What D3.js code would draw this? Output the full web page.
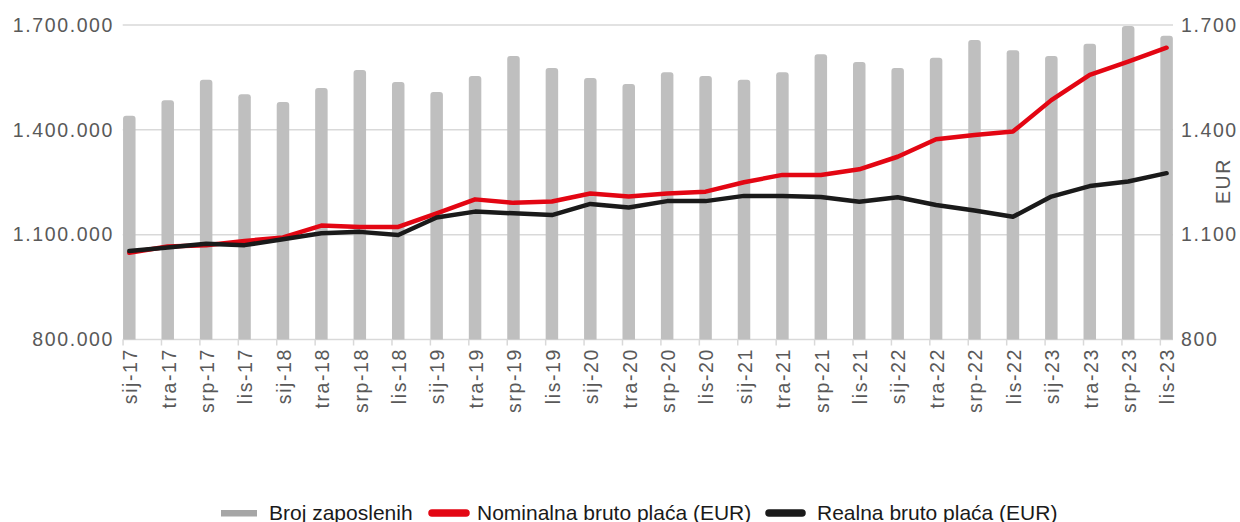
<!DOCTYPE html>
<html>
  <head>
    <meta charset="utf-8" />
    <script src="https://d3js.org/d3.v7.min.js"></script>
    <style>
      body { margin: 0; background: #fff; }
      text { font-family: "Liberation Sans", Arial, sans-serif; }
    </style>
  </head>
  <body>
    <div id="my_dataviz"></div>
    <script>
      // categories (quarters)
      var periods = [
        "sij-17", "tra-17", "srp-17", "lis-17",
        "sij-18", "tra-18", "srp-18", "lis-18",
        "sij-19", "tra-19", "srp-19", "lis-19",
        "sij-20", "tra-20", "srp-20", "lis-20",
        "sij-21", "tra-21", "srp-21", "lis-21",
        "sij-22", "tra-22", "srp-22", "lis-22",
        "sij-23", "tra-23", "srp-23", "lis-23"
      ];
      // Broj zaposlenih (thousands)
      var employed = [
        1440, 1485, 1543, 1502, 1480, 1520, 1571, 1537,
        1508, 1554, 1611, 1577, 1548, 1531, 1565, 1554,
        1543, 1565, 1616, 1594, 1577, 1606, 1657, 1628,
        1611, 1646, 1697, 1669
      ];
      // Nominalna bruto placa (EUR)
      var nominal = [
        1048, 1066, 1070, 1082, 1092, 1126, 1122, 1122,
        1161, 1201, 1191, 1195, 1218, 1209, 1218, 1223,
        1250, 1271, 1271, 1287, 1323, 1373, 1385, 1395,
        1485, 1557, 1595, 1635
      ];
      // Realna bruto placa (EUR)
      var real = [
        1053, 1063, 1074, 1070, 1087, 1104, 1108, 1099,
        1149, 1166, 1161, 1156, 1188, 1178, 1196, 1196,
        1211, 1211, 1208, 1194, 1207, 1185, 1169, 1151,
        1209, 1239, 1252, 1276
      ];
      var yTicks = [800, 1100, 1400, 1700];
      var legendItems = ["Broj zaposlenih", "Nominalna bruto plaća (EUR)", "Realna bruto plaća (EUR)"];

      var W = 1240, H = 522;
      var svg = d3.select("#my_dataviz").append("svg")
        .attr("width", W).attr("height", H);

      var x = d3.scalePoint().domain(periods).range([129.3, 1166.6]);
      var y = d3.scaleLinear().domain([800, 1700]).range([339.5, 25]);
      var barW = 12.5;
      var plotL = 122.7, plotR = 1173;

      var loc = d3.formatLocale({ decimal: ",", thousands: ".", grouping: [3], currency: ["", ""] });
      var fmt = loc.format(",");

      // grid lines
      svg.append("g").selectAll("line").data(yTicks).enter().append("line")
        .attr("x1", plotL).attr("x2", plotR)
        .attr("y1", function (d) { return y(d); })
        .attr("y2", function (d) { return y(d); })
        .style("stroke", "#d9d9d9").style("stroke-width", 1.5);

      // bars
      svg.append("g").selectAll("path").data(employed).enter().append("path")
        .attr("d", function (d, i) {
          var x0 = x(periods[i]) - barW / 2, x1 = x0 + barW;
          var top = y(d), bot = y(800), r = 3;
          return "M" + x0 + "," + bot + "V" + (top + r) +
            "Q" + x0 + "," + top + " " + (x0 + r) + "," + top +
            "H" + (x1 - r) + "Q" + x1 + "," + top + " " + x1 + "," + (top + r) +
            "V" + bot + "Z";
        })
        .style("fill", "#bfbfbf");

      // x axis ticks
      svg.append("g").selectAll("line").data(periods).enter().append("line")
        .attr("x1", function (d) { return x(d) - barW / 2; })
        .attr("x2", function (d) { return x(d) - barW / 2; })
        .attr("y1", y(800)).attr("y2", y(800) + 6)
        .style("stroke", "#d9d9d9").style("stroke-width", 1.5);

      // x labels
      svg.append("g").selectAll("text").data(periods).enter().append("text")
        .attr("transform", function (d) { return "translate(" + (x(d) + 1) + ",348) rotate(-90)"; })
        .attr("text-anchor", "end")
        .attr("dy", "0.35em")
        .style("font-size", "19.5px")
        .style("letter-spacing", "1.6px")
        .style("fill", "#595959")
        .text(function (d) { return d; });

      // left y labels
      svg.append("g").selectAll("text").data(yTicks).enter().append("text")
        .attr("x", 114).attr("y", function (d) { return y(d); })
        .attr("dy", "0.35em").attr("text-anchor", "end")
        .style("font-size", "19.5px").style("letter-spacing", "1.6px")
        .style("fill", "#595959")
        .text(function (d) { return fmt(d * 1000); });

      // right y labels
      svg.append("g").selectAll("text").data(yTicks).enter().append("text")
        .attr("x", 1181).attr("y", function (d) { return y(d); })
        .attr("dy", "0.35em")
        .style("font-size", "19.5px").style("letter-spacing", "1.6px")
        .style("fill", "#595959")
        .text(function (d) { return fmt(d); });

      svg.append("text")
        .attr("transform", "translate(1223,181) rotate(-90)")
        .attr("text-anchor", "middle").attr("dy", "0.35em")
        .style("font-size", "19.5px").style("letter-spacing", "1.6px")
        .style("fill", "#595959")
        .text("EUR");

      // lines
      var line = d3.line()
        .x(function (d, i) { return x(periods[i]); })
        .y(function (d) { return y(d); });

      svg.append("path").datum(nominal).attr("d", line)
        .style("fill", "none").style("stroke", "#e30613")
        .style("stroke-width", 4.5).style("stroke-linejoin", "round").style("stroke-linecap", "round");
      svg.append("path").datum(real).attr("d", line)
        .style("fill", "none").style("stroke", "#1a1a1a")
        .style("stroke-width", 4.5).style("stroke-linejoin", "round").style("stroke-linecap", "round");

      // legend
      var lg = svg.append("g");
      lg.append("rect").attr("x", 221).attr("y", 510).attr("width", 36).attr("height", 6.5)
        .style("fill", "#a6a6a6");
      lg.append("line").attr("x1", 432).attr("x2", 466).attr("y1", 513).attr("y2", 513)
        .style("stroke", "#e30613").style("stroke-width", 7.5).style("stroke-linecap", "round");
      lg.append("line").attr("x1", 769).attr("x2", 802).attr("y1", 513).attr("y2", 513)
        .style("stroke", "#1a1a1a").style("stroke-width", 7.5).style("stroke-linecap", "round");
      var lx = [269, 477, 817];
      lg.selectAll("text").data(legendItems).enter().append("text")
        .attr("x", function (d, i) { return lx[i]; })
        .attr("y", 520)
        .style("font-size", "21px")
        .style("fill", "#1a1a1a")
        .text(function (d) { return d; });
    </script>
  </body>
</html>
